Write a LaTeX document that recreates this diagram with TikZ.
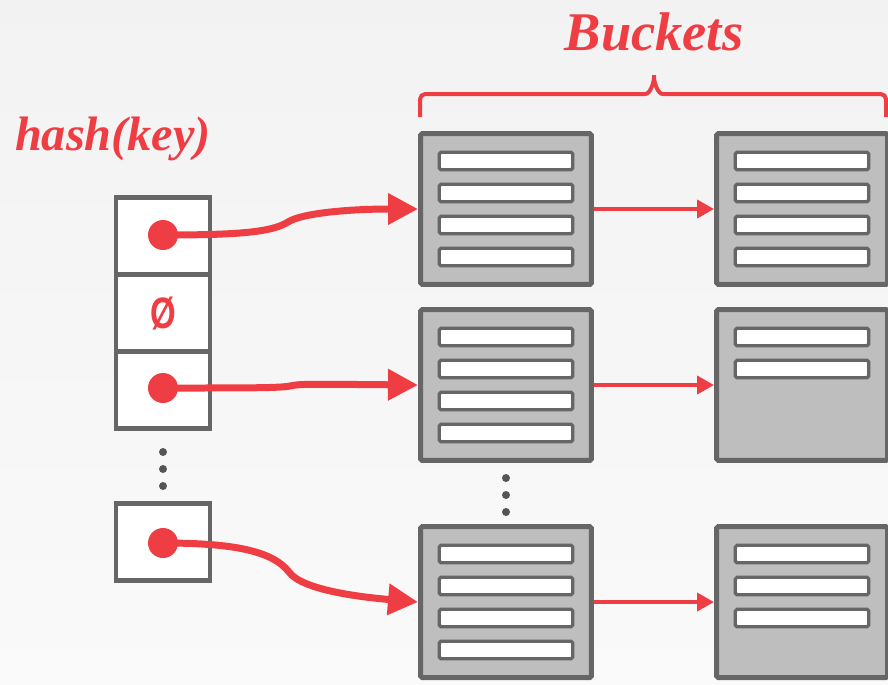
\documentclass[tikz,border=0pt]{standalone}
\usepackage{fontspec}
\usetikzlibrary{arrows.meta}
\newfontfamily\titlefont{Liberation Serif}
\newfontfamily\symbfont{Liberation Sans}
\definecolor{rosso}{HTML}{EE3E44}
\definecolor{grigiobordo}{HTML}{666666}
\definecolor{grigiobox}{HTML}{BEBEBE}
\definecolor{grigiopunti}{HTML}{555555}

\begin{document}
\begin{tikzpicture}[x=0.02cm, y=-0.02cm]

        % Stili per celle, bucket e frecce
        \tikzstyle{bucket}=[draw=grigiobordo, fill=grigiobox, line width=0.1cm, minimum width=3.42cm, minimum height=3.02cm, inner sep=0, rounded corners=1pt]
        \tikzstyle{riga}=[draw=grigiobordo, fill=white, line width=0.065cm, minimum width=2.67cm, minimum height=0.35cm, inner sep=0, rounded corners=1pt]
        \tikzstyle{cella}=[draw=grigiobordo, fill=white, line width=0.09cm, minimum width=1.89cm, minimum height=1.54cm, inner sep=0, outer sep=0]
        \tikzstyle{punto}=[circle, fill=rosso, minimum size=0.6cm, inner sep=0]
        \tikzstyle{puntino}=[circle, fill=grigiopunti, minimum size=0.16cm, inner sep=0]
        \tikzstyle{puntatore}=[draw=rosso, line width=0.14cm, -{Triangle[length=0.6cm, width=0.6cm]}]
        \tikzstyle{catena}=[draw=rosso, line width=0.08cm, -{Triangle[length=0.34cm, width=0.36cm]}]

        % Sfondo (dimensioni in pixel dell'originale 888 x 684)
        \shade[top color=black!5, bottom color=black!2] (0,0) rectangle (888,684);
        \useasboundingbox (0,0) rectangle (888,684);

        % Tabella hash a sinistra
        \node[cella] (h1) at (163,236) {};
        \node[cella] (h3) at (163,390) {};
        \node[cella] (h2) at (163,313) {\symbfont\bfseries\fontsize{25}{25}\selectfont\color{rosso}\scalebox{0.75}[1]{Ø}};
        \node[cella] (h4) at (163,542) {};

        % Puntini di sospensione
        \foreach \y [count=\i] in {452,469,486}
            \node[puntino] (v\i) at (163,\y) {};
        \foreach \y [count=\i] in {478,495,512}
            \node[puntino] (w\i) at (506,\y) {};

        % Bucket con le righe interne (nome/x/y/numero righe)
        \foreach \nome/\x/\y/\n in {b11/506/209/4, b12/802/209/4, b21/506/385/4, b22/802/385/2, b31/506/602/4, b32/802/602/3} {
            \node[bucket] (\nome) at (\x,\y) {};
            \foreach \i in {1,...,\n}
                \node[riga] (\nome-\i) at (\x,{\y-80+32*\i}) {};
        }

        % Catene di overflow
        \draw[catena] (b11) -- (b12);
        \draw[catena] (b21) -- (b22);
        \draw[catena] (b31) -- (b32);

        % Puntatori dalla tabella ai bucket
        \node[punto] (d1) at (163,235) {};
        \node[punto] (d2) at (163,388) {};
        \node[punto] (d3) at (163,543) {};
        \coordinate (k1) at (288,222);
        \coordinate (k2) at (290,386);
        \coordinate (k3) at (289,572);
        \draw[puntatore] (d1.center) .. controls (240,235) and (272,232) .. (k1) .. controls (302,213) and (350,209) .. (b11.west);
        \draw[puntatore] (d2.center) .. controls (250,388) and (280,388) .. (k2) .. controls (300,384) .. (b21.west);
        \draw[puntatore] (d3.center) .. controls (230,543) and (272,550) .. (k3) .. controls (302,590) and (360,597) .. (b31.west);

        % Graffa ed etichette
        \draw[rosso, line width=0.08cm, rounded corners=3pt] (420,117) |- (640,94) to[out=0,in=-90] (654,72) to[out=-90,in=180] (668,94) -| (886,117);
        \node[anchor=base, text=rosso, font=\titlefont\bfseries\itshape\fontsize{31}{36}\selectfont] (titolo) at (654,50) {Buckets};
        \node[anchor=base, text=rosso, font=\titlefont\bfseries\itshape\fontsize{27.5}{32}\selectfont] (chiave) at (113,150) {hash(key)};

\end{tikzpicture}
\end{document}
